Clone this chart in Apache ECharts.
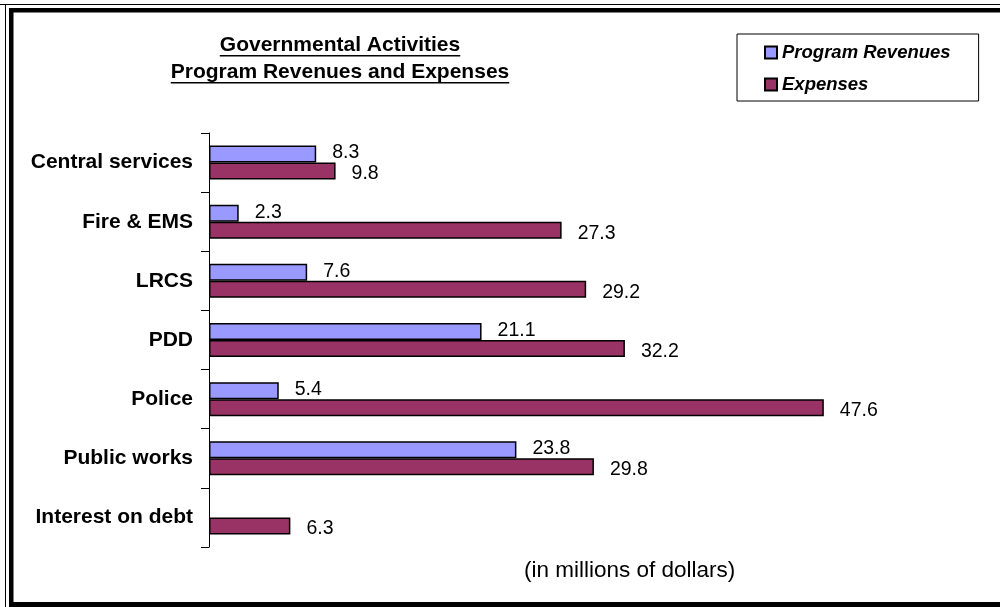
<!DOCTYPE html>
<html>
<head>
<meta charset="utf-8">
<script src="https://cdn.jsdelivr.net/npm/echarts@6/dist/echarts.min.js"></script>
<style>
  html, body { margin: 0; padding: 0; background: #fff; }
  #main { width: 1000px; height: 607px; }
</style>
</head>
<body>
<div id="main"></div>
<script>
// chart data
var categories = ['Central services', 'Fire & EMS', 'LRCS', 'PDD', 'Police', 'Public works', 'Interest on debt'];
var programRevenues = [8.3, 2.3, 7.6, 21.1, 5.4, 23.8, null];
var expenses = [9.8, 27.3, 29.2, 32.2, 47.6, 29.8, 6.3];
var titleLines = ['Governmental Activities', 'Program Revenues and Expenses'];
var unitNote = '(in millions of dollars)';

var FONT = 'Arial, "Liberation Sans", sans-serif';

// measure title text so the underline fits it
var ctx2d = document.createElement('canvas').getContext('2d');
ctx2d.font = 'bold 21px ' + FONT;
function textW(s){ return ctx2d.measureText(s).width; }

var titleCx = 340;
var titleGraphics = [];
titleLines.forEach(function(line, i){
    var y = 47 + i * 27;
    var w = textW(line);
    titleGraphics.push({
        type: 'text', left: titleCx - w / 2, top: y - 12,
        style: { text: line, font: 'bold 21px ' + FONT, fill: '#000' }
    });
    titleGraphics.push({
        type: 'rect', shape: { x: titleCx - w / 2, y: y + 8, width: w, height: 1.6 },
        style: { fill: '#000' }
    });
});

var myChart = echarts.init(document.getElementById('main'));
var option = {
    backgroundColor: '#fff',
    animation: false,
    legend: {
        orient: 'vertical',
        left: 737, top: 34,
        padding: [9, 28, 7, 27],
        itemGap: 13,
        itemWidth: 12, itemHeight: 12,
        icon: 'rect',
        borderColor: '#000', borderWidth: 1,
        textStyle: { fontFamily: FONT, fontSize: 18.5, fontWeight: 'bold', fontStyle: 'italic', color: '#000' },
        data: ['Program Revenues', 'Expenses']
    },
    grid: { left: 209, right: 16, top: 133, bottom: 60, containLabel: false },
    xAxis: {
        type: 'value', min: 0, max: 60, show: false
    },
    yAxis: {
        type: 'category', inverse: true, data: categories,
        axisLine: { show: true, lineStyle: { color: '#000', width: 1 } },
        axisTick: { show: true, inside: false, length: 8, lineStyle: { color: '#000' } },
        axisLabel: { margin: 16, fontFamily: FONT, fontSize: 21, fontWeight: 'bold', color: '#000' },
        splitLine: { show: false }
    },
    series: [
        {
            name: 'Program Revenues', type: 'bar', data: programRevenues,
            barWidth: 17, barGap: '0%',
            itemStyle: { color: '#9999FF', borderColor: '#000', borderWidth: 1.5 },
            label: { show: true, position: 'right', distance: 16, offset: [0, -1], fontFamily: FONT, fontSize: 19.5, color: '#000' }
        },
        {
            name: 'Expenses', type: 'bar', data: expenses,
            barWidth: 17,
            itemStyle: { color: '#993366', borderColor: '#000', borderWidth: 1.5 },
            label: { show: true, position: 'right', distance: 16, offset: [0, 3], fontFamily: FONT, fontSize: 19.5, color: '#000' }
        }
    ],
    graphic: titleGraphics.concat([
        {
            type: 'text', left: 524, top: 559,
            style: { text: unitNote, font: '22.5px ' + FONT, fill: '#000' }
        },
        // frame
        { type: 'rect', shape: { x: 0, y: 4, width: 1000, height: 1 }, style: { fill: '#000' } },
        { type: 'rect', shape: { x: 5, y: 4, width: 1, height: 603 }, style: { fill: '#000' } },
        { type: 'rect', shape: { x: 9, y: 8, width: 991, height: 4.5 }, style: { fill: '#000' } },
        { type: 'rect', shape: { x: 9, y: 8, width: 4.5, height: 599 }, style: { fill: '#000' } },
        { type: 'rect', shape: { x: 9, y: 602, width: 991, height: 5 }, style: { fill: '#000' } }
    ])
};
myChart.setOption(option);
</script>
</body>
</html>
